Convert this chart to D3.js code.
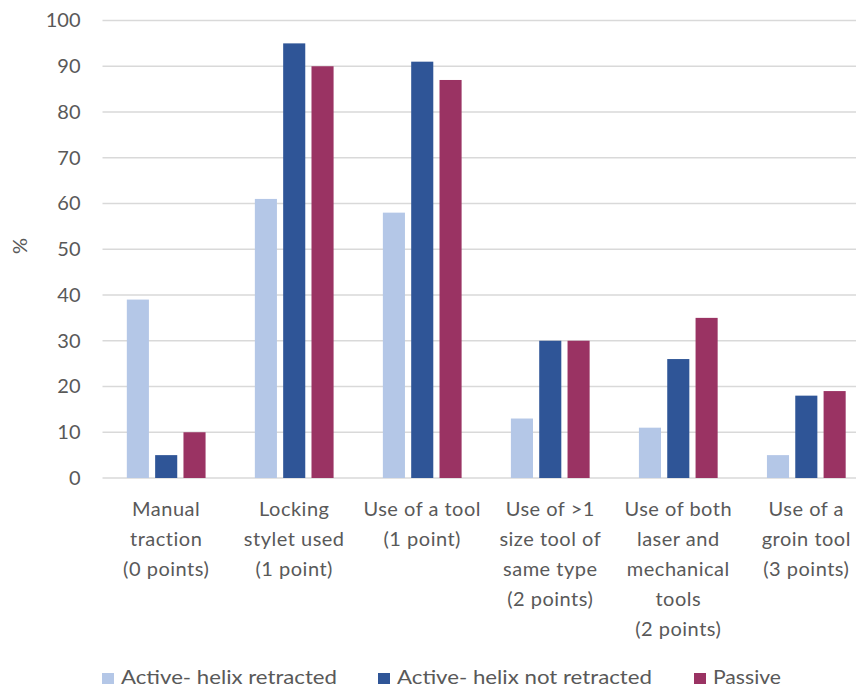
<!DOCTYPE html>
<html>
<head>
<meta charset="utf-8">
<script src="https://cdn.jsdelivr.net/npm/d3@7"></script>
<style>
  html, body { margin: 0; padding: 0; background: #fff; }
  svg { display: block; font-family: Lato, "Open Sans", sans-serif; }
</style>
</head>
<body>
<svg id="chart" width="856" height="690"></svg>
<script>
// Extraction techniques by lead type (% of leads)
const categories = [
  ["Manual", "traction", "(0 points)"],
  ["Locking", "stylet used", "(1 point)"],
  ["Use of a tool", "(1 point)"],
  ["Use of >1", "size tool of", "same type", "(2 points)"],
  ["Use of both", "laser and", "mechanical", "tools", "(2 points)"],
  ["Use of a", "groin tool", "(3 points)"]
];
const seriesNames = ["Active- helix retracted", "Active- helix not retracted", "Passive"];
const activeRetracted    = [39, 61, 58, 13, 11, 5];
const activeNotRetracted = [5, 95, 91, 30, 26, 18];
const passive            = [10, 90, 87, 30, 35, 19];
const yTicks = [0, 10, 20, 30, 40, 50, 60, 70, 80, 90, 100];
const colors = ["#b4c7e7", "#2f5597", "#9a3363"];

const seriesValues = [activeRetracted, activeNotRetracted, passive];

const svg = d3.select("#chart");
const margin = { left: 102.5, top: 20.5, right: 870, bottom: 478 };

const x = d3.scaleBand()
  .domain(d3.range(categories.length))
  .range([margin.left, margin.right])
  .paddingInner(0.385)
  .paddingOuter(0.19);

const xInner = d3.scaleBand()
  .domain(d3.range(seriesNames.length))
  .range([0, x.bandwidth()])
  .paddingInner(0.22);

const y = d3.scaleLinear().domain([0, 100]).range([margin.bottom, margin.top]);

// value axis labels
const yAxis = d3.axisLeft(y).tickValues(yTicks).tickSize(0).tickPadding(22);
const gy = svg.append("g").attr("transform", `translate(${margin.left},0)`).call(yAxis);
gy.select(".domain").remove();
gy.selectAll("text").attr("fill", "#595959").style("font-size", "20px").style("font-family", "Lato, sans-serif");

// horizontal gridlines
svg.append("g").selectAll("line")
  .data(yTicks)
  .join("line")
  .attr("x1", margin.left).attr("x2", margin.right)
  .attr("y1", d => y(d)).attr("y2", d => y(d))
  .attr("stroke", "#d9d9d9").attr("stroke-width", 1.5);

// bars
const groups = svg.append("g").selectAll("g")
  .data(categories.map((c, i) => i))
  .join("g")
  .attr("transform", i => `translate(${x(i)},0)`);

groups.selectAll("rect")
  .data(i => seriesValues.map((s, k) => ({ k, v: s[i] })))
  .join("rect")
  .attr("x", d => xInner(d.k))
  .attr("width", xInner.bandwidth())
  .attr("y", d => y(d.v))
  .attr("height", d => y(0) - y(d.v))
  .attr("fill", d => colors[d.k]);

// category labels
const catG = svg.append("g").selectAll("text")
  .data(categories)
  .join("text")
  .attr("text-anchor", "middle")
  .attr("fill", "#595959")
  .style("font-size", "20px")
  .style("letter-spacing", "0.5px")
  .attr("transform", (d, i) => `translate(${x(i) + x.bandwidth() / 2},0)`);

catG.selectAll("tspan")
  .data(d => d)
  .join("tspan")
  .attr("x", 0)
  .attr("y", (d, j) => 516 + j * 30)
  .text(d => d);

// y-axis title
svg.append("text")
  .attr("transform", "translate(27,246) rotate(-90)")
  .attr("text-anchor", "middle")
  .attr("fill", "#595959")
  .style("font-size", "20px")
  .text("%");

// legend
const legendX = [102, 378, 694];
const legendW = [216, 255, 68];
const lg = svg.append("g").selectAll("g")
  .data(seriesNames)
  .join("g")
  .attr("transform", (d, i) => `translate(${legendX[i]},0)`);
lg.append("rect")
  .attr("x", 0).attr("y", 673).attr("width", 12).attr("height", 11)
  .attr("fill", (d, i) => colors[i]);
lg.append("text")
  .attr("x", 19).attr("y", 684)
  .attr("fill", "#595959")
  .style("font-size", "20px")
  .attr("textLength", (d, i) => legendW[i])
  .attr("lengthAdjust", "spacingAndGlyphs")
  .text(d => d);
</script>
</body>
</html>
